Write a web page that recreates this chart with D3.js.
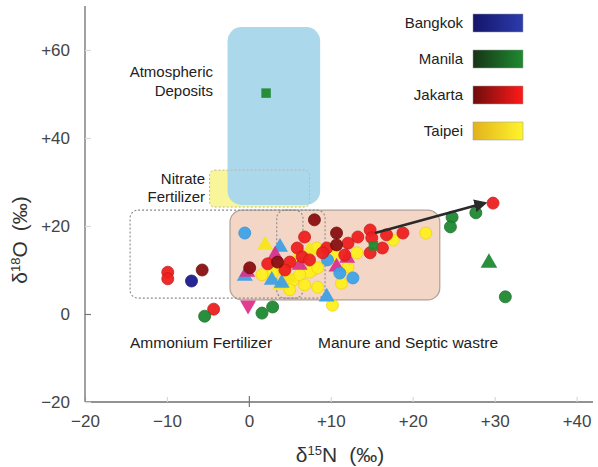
<!DOCTYPE html>
<html>
<head>
<meta charset="utf-8">
<script src="https://cdn.jsdelivr.net/npm/d3@7"></script>
<style>
  body { margin:0; background:#fff; }
  text { font-family: "Liberation Sans", Arial, sans-serif; }
</style>
</head>
<body>
<div id="chart"></div>
<script>
// ---- data (δ15N, δ18O) ----
var jakartaRed = [[-9.9,9.5],[-9.9,8.0],[-4.3,1.1],[2.3,11.4],[5.9,15.0],[6.8,17.5],[6.5,13.0],
  [9.5,15.0],[9.0,13.9],[12.1,16.1],[11.7,13.4],[13.3,17.5],[14.8,19.1],[15.0,17.3],[16.8,18.0],
  [18.8,18.4],[16.3,15.0],[14.8,13.9],[29.8,25.2],[5.0,11.8],[7.4,12.3],[4.4,10.0]];
var jakartaDark = [[-5.7,10.0],[0.1,10.5],[3.5,11.8],[8.0,21.4],[10.7,18.4],[10.7,15.7]];
var taipeiDots = [[21.6,18.4],[17.6,16.8],[13.2,13.9],[8.3,15.0],[10.5,13.4],[12.1,10.7],[7.8,10.0],
  [11.3,7.0],[10.2,2.0],[4.1,10.0],[2.9,9.3],[5.4,7.7],[7.4,9.5],[8.4,6.1],[8.4,10.5],[6.2,8.9],
  [1.6,8.9],[6.8,6.6],[5.0,5.5]];
var taipeiTri = [[2.0,15.7],[5.6,11.8],[4.8,8.2],[3.8,6.6],[7.4,14.5]];
var blueDots = [[-0.5,18.4],[9.6,12.3],[11.1,9.3],[12.7,8.2]];
var blueTri = [[3.8,15.2],[-0.5,8.6],[4.0,7.0],[9.5,3.9],[2.8,7.7]];
var magentaTri = [[3.2,13.4],[10.7,10.7],[12.0,12.7],[-0.2,9.5],[6.2,11.1]];
var magentaDown = [[-0.1,2.0]];
var manilaDots = [[-5.4,-0.5],[1.6,0.2],[2.9,1.6],[24.8,22.0],[24.6,19.8],[27.7,23.0],[31.3,3.9]];
var manilaTri = [[29.3,11.6]];
var manilaSq = [[2.1,50.2],[15.2,15.5]];
var bangkokDots = [[-7.0,7.5]];

var trendArrow = [[15.4,18.4],[28.8,25.2]];

// source regions [x0, x1, y0, y1]
var atmosphericBox = [-2.6, 8.7, 24.8, 65.2];
var nitrateBox = [-4.8, 7.4, 24.3, 32.7];
var manureBox = [-2.3, 23.3, 3.2, 23.6];
var ammoniumBox = [-14.5, 6.6, 3.6, 23.6];
var soilBox = [3.4, 9.3, 3.6, 23.6];

var legendNames = ["Bangkok", "Manila", "Jakarta", "Taipei"];
var xTicks = [-20, -10, 0, 10, 20, 30, 40];
var yTicks = [-20, 0, 20, 40, 60];

// ---- styles ----
var legendColors = [["#14146a","#2c3cac"],["#163416","#1f8a30"],["#6e0c0c","#ff1a1a"],["#e2b21c","#fff42c"]];

var W = 598, H = 467;
var svg = d3.select("#chart").append("svg").attr("width", W).attr("height", H);

var x = d3.scaleLinear().domain([-20, 42]).range([85, 593]);
var y = d3.scaleLinear().domain([-20, 70]).range([402, 6]);

function fmt(v){ return v > 0 ? "+" + v : (v < 0 ? "\u2212" + Math.abs(v) : "0"); }

// regions
function box(b){ return {x:x(b[0]), y:y(b[3]), w:x(b[1])-x(b[0]), h:y(b[2])-y(b[3])}; }

var nb = box(nitrateBox);
svg.append("rect").attr("x",nb.x).attr("y",nb.y).attr("width",nb.w).attr("height",nb.h)
   .attr("rx",5).attr("fill","#f9f59a");
var ab = box(atmosphericBox);
svg.append("rect").attr("x",ab.x).attr("y",ab.y).attr("width",ab.w).attr("height",ab.h)
   .attr("rx",14).attr("fill","#acd8ec");
svg.append("rect").attr("x",nb.x).attr("y",nb.y).attr("width",nb.w).attr("height",nb.h)
   .attr("rx",5).attr("fill","none").attr("stroke","#b8b8b0").attr("stroke-width",1)
   .attr("stroke-dasharray","2,2");
var mb = box(manureBox);
svg.append("rect").attr("x",mb.x).attr("y",mb.y).attr("width",mb.w).attr("height",mb.h)
   .attr("rx",12).attr("fill","#f3d6c6").attr("stroke","#b0a098").attr("stroke-width",1.2);
[ammoniumBox, soilBox].forEach(function(b){
  var bb = box(b);
  svg.append("rect").attr("x",bb.x).attr("y",bb.y).attr("width",bb.w).attr("height",bb.h)
     .attr("rx",8).attr("fill","none").attr("stroke","#8a8a8a").attr("stroke-width",1.1)
     .attr("stroke-dasharray","2,2");
});

// axes
var xAxis = svg.append("g").attr("transform","translate(0,"+y(-20)+")")
  .call(d3.axisBottom(x).tickValues(xTicks).tickFormat(fmt).tickSize(-5).tickPadding(13));
var yAxis = svg.append("g").attr("transform","translate("+x(-20)+",0)")
  .call(d3.axisLeft(y).tickValues(yTicks).tickFormat(fmt).tickSize(-6).tickPadding(15));
[xAxis, yAxis].forEach(function(a){
  a.select(".domain").attr("stroke","#6e6e6e").attr("stroke-width",1.3);
  a.selectAll(".tick line").attr("stroke","#d8d8d8").attr("stroke-width",1.2);
  a.selectAll(".tick text").attr("fill","#444").style("font-size","17px")
   .style("font-family","'Liberation Sans', Arial, sans-serif");
});
xAxis.selectAll(".tick").filter(function(d){ return d === 0; }).select("line")
  .attr("stroke","#777").attr("y1",-6).attr("y2",5);
yAxis.selectAll(".tick").filter(function(d){ return d === 0; }).select("line")
  .attr("stroke","#777");
xAxis.select(".domain").attr("d","M"+x(-20)+",0H"+x(42));
yAxis.select(".domain").attr("d","M0,"+y(-20)+"V"+y(70));

// points
function dots(data, fill, stroke){
  svg.append("g").selectAll("circle").data(data).enter().append("circle")
    .attr("cx", function(d){ return x(d[0]); })
    .attr("cy", function(d){ return y(d[1]); })
    .attr("r", 6).attr("fill", fill).attr("stroke", stroke).attr("stroke-width", 0.8)
    .attr("opacity", 0.95);
}
function syms(data, type, size, fill, rot){
  svg.append("g").selectAll("path").data(data).enter().append("path")
    .attr("d", d3.symbol().type(type).size(size))
    .attr("transform", function(d){ return "translate("+x(d[0])+","+y(d[1])+") rotate("+(rot||0)+")"; })
    .attr("fill", fill).attr("opacity", 0.95);
}

dots(taipeiDots, "#fff01e", "#f0d010");
syms(taipeiTri, d3.symbolTriangle, 110, "#f6e61a");
syms(blueTri, d3.symbolTriangle, 110, "#3f9fe4");
syms(magentaTri, d3.symbolTriangle, 110, "#d8338c");
dots(blueDots, "#3fa3e8", "#3090d8");
dots(jakartaRed, "#ee2020", "#c81818");
dots(jakartaDark, "#8a1010", "#6a0808");
dots(manilaDots, "#1f8a32", "#156a22");
dots(bangkokDots, "#1c1c8e", "#101070");
syms(manilaTri, d3.symbolTriangle, 120, "#1f8a32");
syms(manilaSq, d3.symbolSquare, 90, "#1f8a32");
syms(magentaDown, d3.symbolTriangle, 110, "#e2308a", 180);

// arrow
var defs = svg.append("defs");
defs.append("marker").attr("id","ah").attr("viewBox","0 0 10 10").attr("refX",8).attr("refY",5)
  .attr("markerWidth",5).attr("markerHeight",5).attr("orient","auto")
  .append("path").attr("d","M0,0L10,5L0,10z").attr("fill","#2a2a2a");
svg.append("line")
  .attr("x1", x(trendArrow[0][0])).attr("y1", y(trendArrow[0][1]))
  .attr("x2", x(trendArrow[1][0])).attr("y2", y(trendArrow[1][1]))
  .attr("stroke","#2a2a2a").attr("stroke-width",2.6).attr("marker-end","url(#ah)");

// legend
legendNames.forEach(function(n, i){
  var g = defs.append("linearGradient").attr("id","lg"+i);
  g.append("stop").attr("offset","0%").attr("stop-color",legendColors[i][0]);
  g.append("stop").attr("offset","100%").attr("stop-color",legendColors[i][1]);
  var cy = 23 + i*36;
  svg.append("rect").attr("x",473).attr("y",cy-9).attr("width",50).attr("height",18)
    .attr("fill","url(#lg"+i+")").attr("stroke","#999").attr("stroke-width",0.5);
  svg.append("text").attr("x",463).attr("y",cy+5).attr("text-anchor","end")
    .style("font-size","15px").attr("fill","#222").text(n);
});

// annotations
function label(txt, px, py, anchor, fs){
  svg.append("text").attr("x",px).attr("y",py).attr("text-anchor",anchor||"start")
    .style("font-size",(fs||15)+"px").attr("fill","#222").text(txt);
}
label("Atmospheric", 213, 77, "end");
label("Deposits", 213, 96, "end");
label("Nitrate", 205, 184, "end");
label("Fertilizer", 205, 202, "end");
label("Ammonium Fertilizer", 130, 348, "start", 15.5);
label("Manure and Septic wastre", 318, 348, "start", 15.5);

// axis titles
var xt = svg.append("text").attr("x",340).attr("y",462).attr("text-anchor","middle")
  .attr("fill","#333").style("font-size","21px").attr("xml:space","preserve");
xt.append("tspan").text("\u03b4");
xt.append("tspan").attr("dy",-7).style("font-size","13px").text("15");
xt.append("tspan").attr("dy",7).text("N");
xt.append("tspan").attr("dx",12).text("(\u2030)");

var yt = svg.append("text").attr("transform","translate(27,240) rotate(-90)").attr("text-anchor","middle")
  .attr("fill","#333").style("font-size","21px").attr("xml:space","preserve");
yt.append("tspan").text("\u03b4");
yt.append("tspan").attr("dy",-7).style("font-size","13px").text("18");
yt.append("tspan").attr("dy",7).text("O");
yt.append("tspan").attr("dx",10).text("(\u2030)");
</script>
</body>
</html>
